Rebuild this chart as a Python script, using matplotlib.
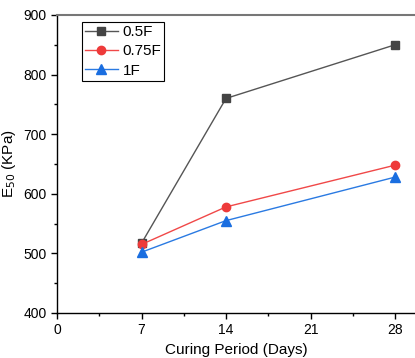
import matplotlib
matplotlib.use("Agg")
import matplotlib.pyplot as plt
from matplotlib.ticker import MultipleLocator

days = [7, 14, 28]
e50_05F = [517, 760, 850]
e50_075F = [515, 578, 648]
e50_1F = [502, 555, 628]

plt.rcParams['font.family'] = ['Liberation Sans', 'DejaVu Sans']

fig = plt.figure(figsize=(4.15, 3.58), dpi=100)
ax = fig.add_axes([57/415, 45/358, 358/415, 298/358])

ax.plot(days, e50_05F, color="#555555", linewidth=1, marker="s", markersize=5.5,
        markerfacecolor="#444444", markeredgecolor="#444444", label="0.5F")
ax.plot(days, e50_075F, color="#f04848", linewidth=1, marker="o", markersize=6,
        markerfacecolor="#ee3a3a", markeredgecolor="#ee3a3a", label="0.75F")
ax.plot(days, e50_1F, color="#2a7ae2", linewidth=1, marker="^", markersize=6.5,
        markerfacecolor="#1a6ee0", markeredgecolor="#1a6ee0", label="1F")

ax.set_xlim(0, 358 / (84.5 / 7))
ax.set_ylim(400, 900)
ax.set_xticks([0, 7, 14, 21, 28])
ax.set_yticks([400, 500, 600, 700, 800, 900])
ax.xaxis.set_minor_locator(MultipleLocator(3.5))
ax.yaxis.set_minor_locator(MultipleLocator(50))
ax.tick_params(axis='both', which='major', direction='out', length=4, width=1, labelsize=10)
ax.tick_params(axis='both', which='minor', direction='out', length=2.5, width=1)

ax.spines['right'].set_visible(False)
ax.spines['top'].set_color("#777777")
ax.spines['top'].set_linewidth(1.5)
for s in ['left', 'bottom']:
    ax.spines[s].set_color("black")
    ax.spines[s].set_linewidth(1)

ax.set_xlabel("Curing Period (Days)", fontsize=11)
ax.set_ylabel("E$_{50}$ (KPa)", fontsize=11)

leg = ax.legend(loc="upper left", bbox_to_anchor=(25/358, 291/298), borderaxespad=0,
                fontsize=11, fancybox=False, framealpha=1, edgecolor="black",
                handlelength=2.15, borderpad=0.2, labelspacing=0.35, handletextpad=0.3)
leg.get_frame().set_linewidth(0.8)

fig.savefig("out.png", dpi=100)
